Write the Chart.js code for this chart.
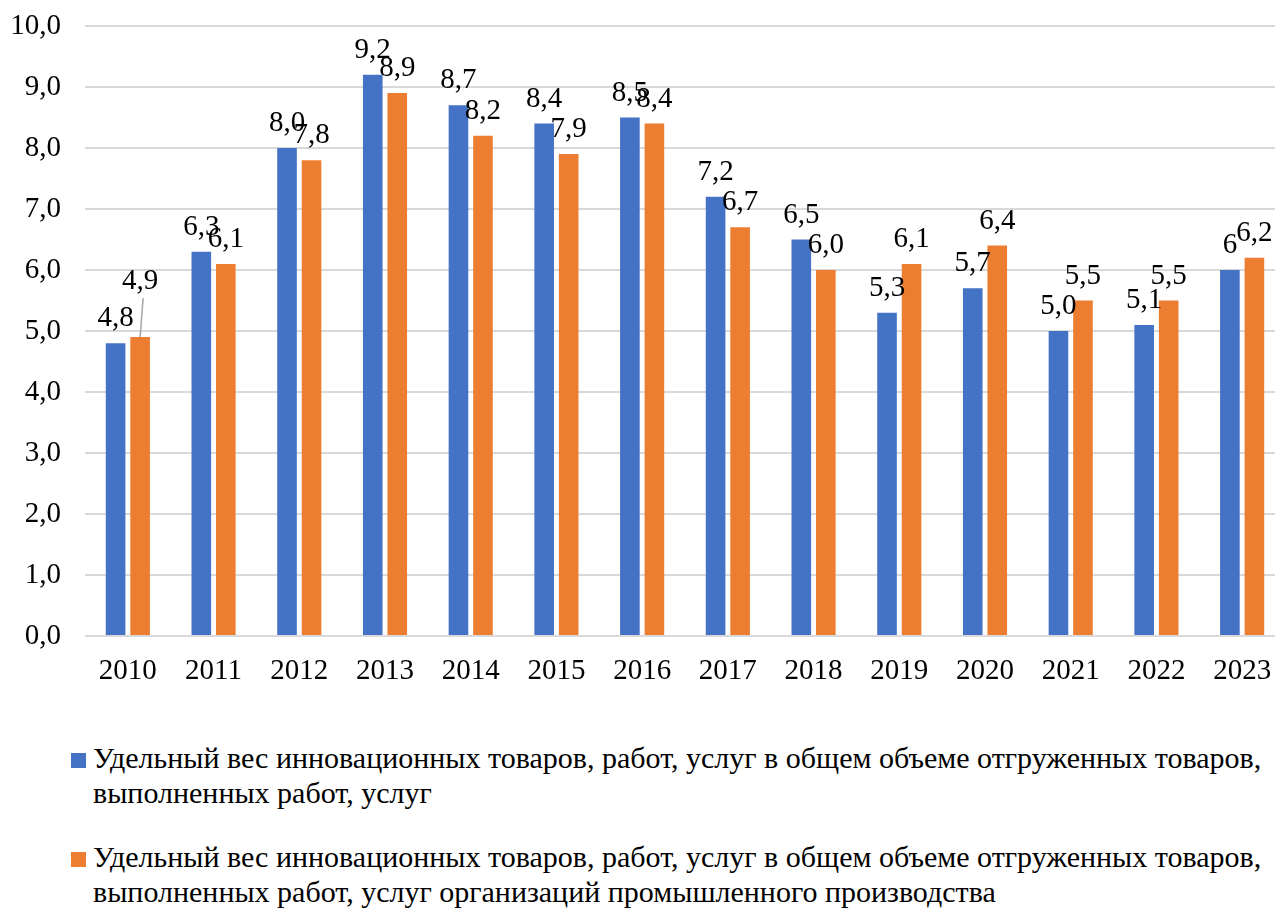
<!DOCTYPE html>
<html lang="ru">
<head>
<meta charset="utf-8">
<title>Удельный вес инновационных товаров</title>
<script src="https://cdn.jsdelivr.net/npm/chart.js@4.4.1/dist/chart.umd.min.js"></script>
<style>
  html, body { margin: 0; padding: 0; background: #fff; overflow: hidden; }
  #wrap { position: relative; width: 1275px; height: 908px; overflow: hidden; }
  #box { position: absolute; left: 0; top: 0; width: 1285px; height: 700px; }
  .item {
    position: absolute; left: 71px; width: 1195px; padding-left: 22px;
    font: 30px "Liberation Serif", "Times New Roman", serif; line-height: 35px; color: #000;
  }
  .item .sw { position: absolute; left: 0; top: 13px; width: 15px; height: 15px; }
</style>
</head>
<body>
<div id="wrap">
  <div id="box"><canvas id="innovChart"></canvas></div>
  <div id="legend"></div>
</div>
<script>
// ------
// data
// ------
const years = ['2010', '2011', '2012', '2013', '2014', '2015', '2016',
  '2017', '2018', '2019', '2020', '2021', '2022', '2023'];
const shareAll = [4.8, 6.3, 8.0, 9.2, 8.7, 8.4, 8.5, 7.2, 6.5, 5.3, 5.7, 5.0, 5.1, 6];
const shareIndustry = [4.9, 6.1, 7.8, 8.9, 8.2, 7.9, 8.4, 6.7, 6.0, 6.1, 6.4, 5.5, 5.5, 6.2];
const seriesNames = [
  'Удельный вес инновационных товаров, работ, услуг в общем объеме отгруженных товаров, выполненных работ, услуг',
  'Удельный вес инновационных товаров, работ, услуг в общем объеме отгруженных товаров, выполненных работ, услуг организаций промышленного производства',
];
// decimals shown in the value labels (the last blue label is printed as a whole number)
const shareAllDecimals = [1, 1, 1, 1, 1, 1, 1, 1, 1, 1, 1, 1, 1, 0];
const yTicks = [0, 1, 2, 3, 4, 5, 6, 7, 8, 9, 10];

const serif = '"Liberation Serif", "Times New Roman", serif';
const fmt = (v, d) => v.toFixed(d).replace('.', ',');

// ------
// value labels above bars
// ------
const barLabels = {
  id: 'barLabels',
  afterDatasetsDraw(chart, args, opts) {
    const ctx = chart.ctx;
    ctx.save();
    ctx.font = opts.font;
    ctx.textAlign = 'center';
    ctx.textBaseline = 'alphabetic';
    chart.data.datasets.forEach((ds, di) => {
      const meta = chart.getDatasetMeta(di);
      meta.data.forEach((bar, i) => {
        const lift = (opts.lift[di] && opts.lift[di][i]) || 0;
        const y = bar.y - opts.gap - lift;
        if (lift) {
          // leader line for a label moved away from its bar
          ctx.strokeStyle = '#a6a6a6';
          ctx.lineWidth = 1.5;
          ctx.beginPath();
          ctx.moveTo(bar.x, bar.y);
          ctx.lineTo(bar.x + 3, y + 9);
          ctx.stroke();
        }
        const d = di === 0 ? shareAllDecimals[i] : 1;
        ctx.fillStyle = opts.color;
        ctx.fillText(fmt(ds.data[i], d), bar.x, y);
      });
    });
    ctx.restore();
  },
};

// ------
// html legend (wrapped series names)
// ------
const htmlLegend = {
  id: 'htmlLegend',
  afterUpdate(chart, args, opts) {
    const box = document.getElementById(opts.containerID);
    box.innerHTML = '';
    chart.data.datasets.forEach((ds, i) => {
      const item = document.createElement('div');
      item.className = 'item';
      item.style.top = opts.tops[i] + 'px';
      const sw = document.createElement('span');
      sw.className = 'sw';
      sw.style.background = ds.backgroundColor;
      item.appendChild(sw);
      item.appendChild(document.createTextNode(ds.label));
      box.appendChild(item);
    });
  },
};

const ctxInnov = document.getElementById('innovChart');
new Chart(ctxInnov, {
  type: 'bar',
  data: {
    labels: years,
    datasets: [
      {
        label: seriesNames[0],
        data: shareAll,
        backgroundColor: '#4472C4',
        borderWidth: 0,
        categoryPercentage: 0.572,
        barPercentage: 0.8,
      },
      {
        label: seriesNames[1],
        data: shareIndustry,
        backgroundColor: '#ED7D31',
        borderWidth: 0,
        categoryPercentage: 0.572,
        barPercentage: 0.8,
      },
    ],
  },
  plugins: [barLabels, htmlLegend],
  options: {
    responsive: true,
    maintainAspectRatio: false,
    animation: false,
    layout: {
      padding: { top: 26, right: 0, bottom: 0, left: 0 },
    },
    plugins: {
      legend: { display: false },
      tooltip: { enabled: false },
      barLabels: {
        font: '29px ' + serif,
        color: '#000',
        gap: 17,
        lift: { 1: { 0: 31 } },
      },
      htmlLegend: {
        containerID: 'legend',
        tops: [740, 839],
      },
    },
    scales: {
      x: {
        grid: { display: false },
        border: { display: false },
        ticks: {
          color: '#000',
          font: { family: serif, size: 29 },
          padding: 10,
          maxRotation: 0,
        },
        afterFit(scale) {
          scale.height = 64;
          scale.paddingLeft = 0;
          scale.paddingRight = 0;
        },
      },
      y: {
        min: 0,
        max: 10,
        border: { display: false },
        grid: { color: '#d9d9d9', lineWidth: 2, drawTicks: false },
        afterBuildTicks(scale) {
          scale.ticks = yTicks.map(v => ({ value: v }));
        },
        ticks: {
          color: '#000',
          font: { family: serif, size: 29 },
          padding: 24,
          callback: v => fmt(v, 1),
        },
        afterFit(scale) {
          scale.width = 85;
          scale.paddingTop = 0;
          scale.paddingBottom = 0;
        },
      },
    },
  },
});
</script>
</body>
</html>
